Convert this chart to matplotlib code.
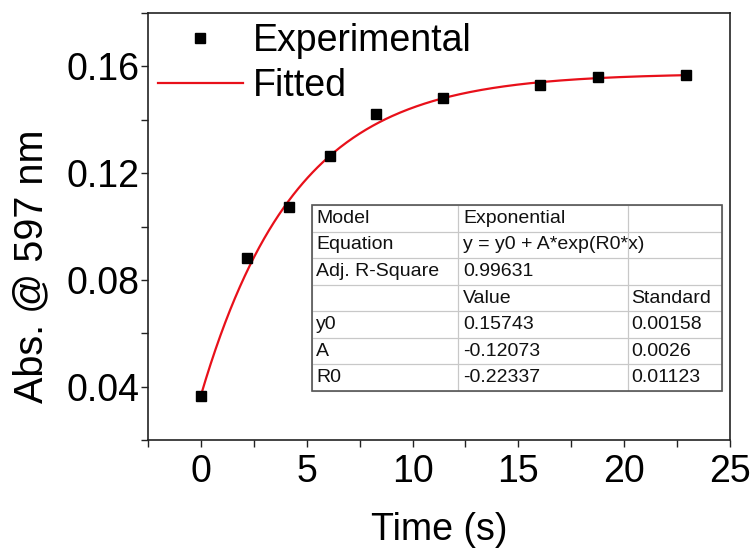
import numpy as np
import matplotlib
matplotlib.use("Agg")
import matplotlib.pyplot as plt
from matplotlib.ticker import MultipleLocator
from matplotlib.patches import Rectangle

plt.rcParams['font.family'] = ['Liberation Sans', 'DejaVu Sans']

# Measured absorbance at 597 nm
time_s = [0.0, 2.2, 4.15, 6.1, 8.25, 11.45, 16.0, 18.75, 22.9]
absorbance = [0.0365, 0.0882, 0.1073, 0.1264, 0.1423, 0.1481, 0.1532, 0.1562, 0.1568]

# Exponential fit parameters
y0 = 0.15743
A = -0.12073
R0 = -0.22337

table_rows = [
    ["Model", "Exponential", ""],
    ["Equation", "y = y0 + A*exp(R0*x)", ""],
    ["Adj. R-Square", "0.99631", ""],
    ["", "Value", "Standard"],
    ["y0", "0.15743", "0.00158"],
    ["A", "-0.12073", "0.0026"],
    ["R0", "-0.22337", "0.01123"],
]

FS = 27

fig = plt.figure(figsize=(7.55, 5.48), dpi=100)
ax = fig.add_axes([148 / 755, 1 - 440 / 548, (730 - 148) / 755, (440 - 13) / 548])

x_fit = np.linspace(min(time_s), max(time_s), 300)
y_fit = y0 + A * np.exp(R0 * x_fit)

ax.plot(time_s, absorbance, 's', color='black', markersize=7, label='Experimental', zorder=3)
ax.plot(x_fit, y_fit, '-', color='#e8101a', linewidth=1.6, label='Fitted', zorder=2)

ax.set_xlim(-2.5, 25)
ax.set_ylim(0.02, 0.18)
ax.xaxis.set_major_locator(MultipleLocator(5))
ax.xaxis.set_minor_locator(MultipleLocator(2.5))
ax.yaxis.set_minor_locator(MultipleLocator(0.02))
ax.set_yticks([0.04, 0.08, 0.12, 0.16])
ax.set_yticklabels(["0.04", "0.08", "0.12", "0.16"])
ax.tick_params(axis='both', which='major', direction='out', length=5, width=1,
               labelsize=FS, color='#222222')
ax.tick_params(axis='x', which='major', pad=5)
ax.tick_params(axis='y', which='major', pad=1)
ax.tick_params(axis='both', which='minor', direction='out', length=5, width=1,
               color='#222222')
for sp in ax.spines.values():
    sp.set_linewidth(1.2)
    sp.set_color('#222222')

ax.set_xlabel("Time (s)", fontsize=FS, labelpad=16)
ax.set_ylabel("Abs. @ 597 nm", fontsize=28.5)
ax.yaxis.set_label_coords(-0.167, 0.407)

leg = ax.legend(loc='upper left', bbox_to_anchor=(0.017, 0.977), frameon=False,
                fontsize=FS, handlelength=2.27, handletextpad=0.27,
                labelspacing=0.24, borderpad=0.0, borderaxespad=0.0)

# Fit summary table
tbl_box = [(312 - 148) / 582, (440 - 391) / 427, (722 - 312) / 582, (391 - 205) / 427]
ax.add_patch(Rectangle((tbl_box[0], tbl_box[1]), tbl_box[2], tbl_box[3],
                       transform=ax.transAxes, facecolor='white', edgecolor='none', zorder=3.5))
tbl = ax.table(cellText=table_rows, cellLoc='left', loc='lower left',
               colWidths=[146 / 582, 170 / 582, 94 / 582], bbox=tbl_box)
tbl.auto_set_font_size(False)
tbl.set_fontsize(14)
for (r, c), cell in tbl.get_celld().items():
    cell.set_edgecolor('#c8c8c8')
    cell.set_linewidth(0.8)
    cell.set_facecolor('none')
    cell.PAD = 0.03
    cell.get_text().set_color('#111111')
tbl.set_zorder(4)

# Darker outline around the table
ax.add_patch(Rectangle((tbl_box[0], tbl_box[1]), tbl_box[2], tbl_box[3], transform=ax.transAxes,
                       fill=False, edgecolor='#555555', linewidth=1.2, zorder=5))

fig.savefig("out.png", dpi=100)
